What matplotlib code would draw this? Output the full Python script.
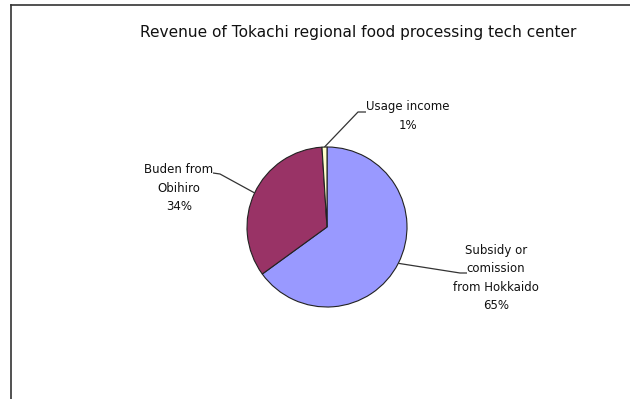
"""Pie chart: revenue breakdown of the Tokachi regional food processing tech center."""

import numpy as np
import matplotlib.pyplot as plt
from matplotlib.lines import Line2D

# data
labels = ["Subsidy or\ncomission\nfrom Hokkaido", "Buden from\nObihiro", "Usage income"]
shares = [65, 34, 1]
colors = ["#9999FF", "#993366", "#FFFFCC"]
title = "Revenue of Tokachi regional food processing tech center"

W, H = 630, 399
CX, CY, R = 327, 227, 80  # pie centre / radius in pixels


def px(x, y):
    """pixel position -> data coords (pie radius == 1)."""
    return (x - CX) / R, (CY - y) / R


plt.rcParams["font.family"] = ["DejaVu Sans"]

fig = plt.figure(figsize=(W / 100, H / 100), dpi=100)
ax = fig.add_axes([0, 0, 1, 1])

wedges, _ = ax.pie(
    shares,
    colors=colors,
    startangle=90,
    counterclock=False,
    radius=1,
    wedgeprops=dict(edgecolor="#222222", linewidth=0.8),
)

ax.set_xlim(-CX / R, (W - CX) / R)
ax.set_ylim((CY - H) / R, CY / R)
ax.set_aspect("auto")
ax.axis("off")

# label placement: (elbow px, line end px, text centre px)
layout = [
    ((460, 273), (467, 273), (496, 278)),
    ((220, 174), (213, 173), (179, 188)),
    ((358, 112), (366, 112), (408, 116)),
]

for w, lab, share, (elbow, end, txt) in zip(wedges, labels, shares, layout):
    ang = np.deg2rad((w.theta1 + w.theta2) / 2)
    x0, y0 = np.cos(ang), np.sin(ang)
    ex, ey = px(*elbow)
    nx, ny = px(*end)
    ax.plot([x0, ex, nx], [y0, ey, ny], color="#333333", lw=0.9, solid_capstyle="butt")
    tx, ty = px(*txt)
    ax.text(tx, ty, f"{lab}\n{share}%", ha="center", va="center",
            fontsize=8.5, linespacing=1.55, color="#111111")

fig.text(358 / W, 1 - 33 / H, title, ha="center", va="center", fontsize=11.1, color="#111111")

# frame of the embedding document
fig.add_artist(Line2D([10.5 / W, 10.5 / W], [0, 1 - 5 / H], transform=fig.transFigure,
                      color="#333333", lw=1.2))
fig.add_artist(Line2D([10.5 / W, 1], [1 - 5 / H, 1 - 5 / H], transform=fig.transFigure,
                      color="#333333", lw=1.2))

fig.savefig("out.png", dpi=100)
